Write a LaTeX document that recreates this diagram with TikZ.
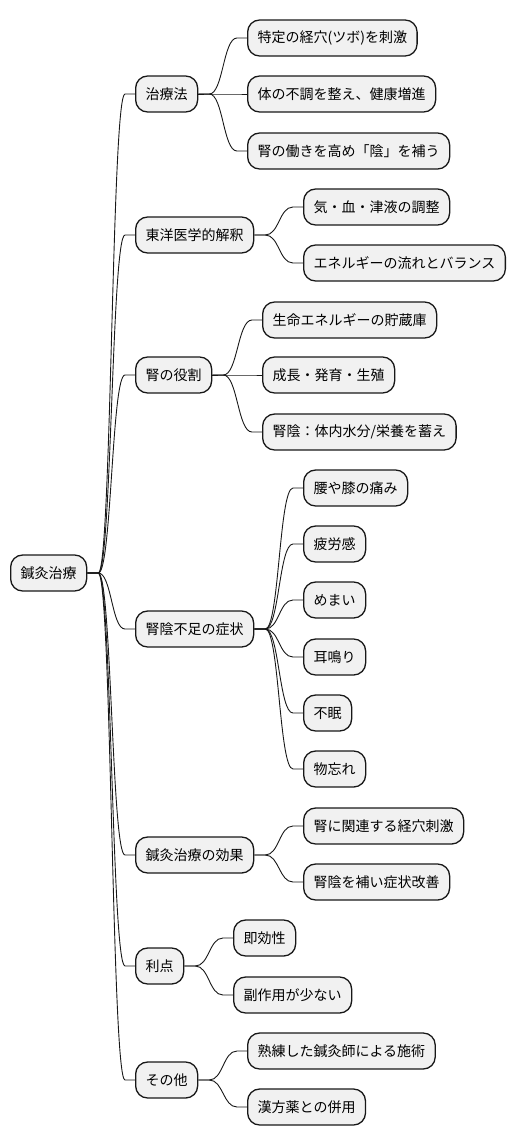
\documentclass[tikz,border=0pt]{standalone}
\usepackage{fontspec}
\setmainfont{Noto Sans CJK JP}
\usetikzlibrary{calc}
\definecolor{boxfill}{HTML}{F1F1F1}
\definecolor{boxline}{HTML}{181818}
\tikzset{
  mbox/.style={draw=boxline, fill=boxfill, line width=1.3pt, rounded corners=12pt,
    anchor=west, minimum height=36pt, inner xsep=10pt, inner ysep=0pt,
    font=\fontsize{14pt}{17pt}\selectfont, text=black},
  conn/.style={draw=boxline, line width=0.9pt},
}
\newcommand{\mmconn}[2]{%
  \draw[conn] let \p1=(#1.east), \p2=(#2.west), \n1={(\x2-\x1-21pt)/2} in
    (\p1) -- ({\x1+11pt},\y1) .. controls ({\x1+11pt+\n1},\y1) and ({\x2-10pt-\n1},\y2) .. ({\x2-10pt},\y2) -- (\p2);}
\begin{document}
\begin{tikzpicture}[x=1pt,y=-1pt]
\useasboundingbox (0,0) rectangle (516,1146);
% root
\node[mbox] (root) at (10,573) {鍼灸治療};
% level 1
\node[mbox] (a) at (135,94) {治療法};
\node[mbox] (b) at (135,235) {東洋医学的解釈};
\node[mbox] (c) at (135,375) {腎の役割};
\node[mbox] (d) at (135,629) {腎陰不足の症状};
\node[mbox] (e) at (135,855) {鍼灸治療の効果};
\node[mbox] (f) at (135,966) {利点};
\node[mbox] (g) at (135,1080) {その他};
% leaves
\node[mbox] (a1) at (247,38) {特定の経穴(ツボ)を刺激};
\node[mbox] (a2) at (247,94) {体の不調を整え、健康増進};
\node[mbox] (a3) at (247,151) {腎の働きを高め「陰」を補う};
\node[mbox] (b1) at (303,207) {気・血・津液の調整};
\node[mbox] (b2) at (303,263) {エネルギーの流れとバランス};
\node[mbox] (c1) at (262,320) {生命エネルギーの貯蔵庫};
\node[mbox] (c2) at (262,375) {成長・発育・生殖};
\node[mbox] (c3) at (262,432) {腎陰：体内水分/栄養を蓄え};
\node[mbox] (d1) at (303,488) {腰や膝の痛み};
\node[mbox] (d2) at (303,544) {疲労感};
\node[mbox] (d3) at (303,600) {めまい};
\node[mbox] (d4) at (303,657) {耳鳴り};
\node[mbox] (d5) at (303,713) {不眠};
\node[mbox] (d6) at (303,769) {物忘れ};
\node[mbox] (e1) at (303,826) {腎に関連する経穴刺激};
\node[mbox] (e2) at (303,882) {腎陰を補い症状改善};
\node[mbox] (f1) at (233,938) {即効性};
\node[mbox] (f2) at (233,995) {副作用が少ない};
\node[mbox] (g1) at (247,1051) {熟練した鍼灸師による施術};
\node[mbox] (g2) at (247,1107) {漢方薬との併用};
% connectors
\foreach \c in {a,b,c,d,e,f,g} {\mmconn{root}{\c}}
\foreach \c in {a1,a2,a3} {\mmconn{a}{\c}}
\foreach \c in {b1,b2} {\mmconn{b}{\c}}
\foreach \c in {c1,c2,c3} {\mmconn{c}{\c}}
\foreach \c in {d1,d2,d3,d4,d5,d6} {\mmconn{d}{\c}}
\foreach \c in {e1,e2} {\mmconn{e}{\c}}
\foreach \c in {f1,f2} {\mmconn{f}{\c}}
\foreach \c in {g1,g2} {\mmconn{g}{\c}}
\end{tikzpicture}
\end{document}
